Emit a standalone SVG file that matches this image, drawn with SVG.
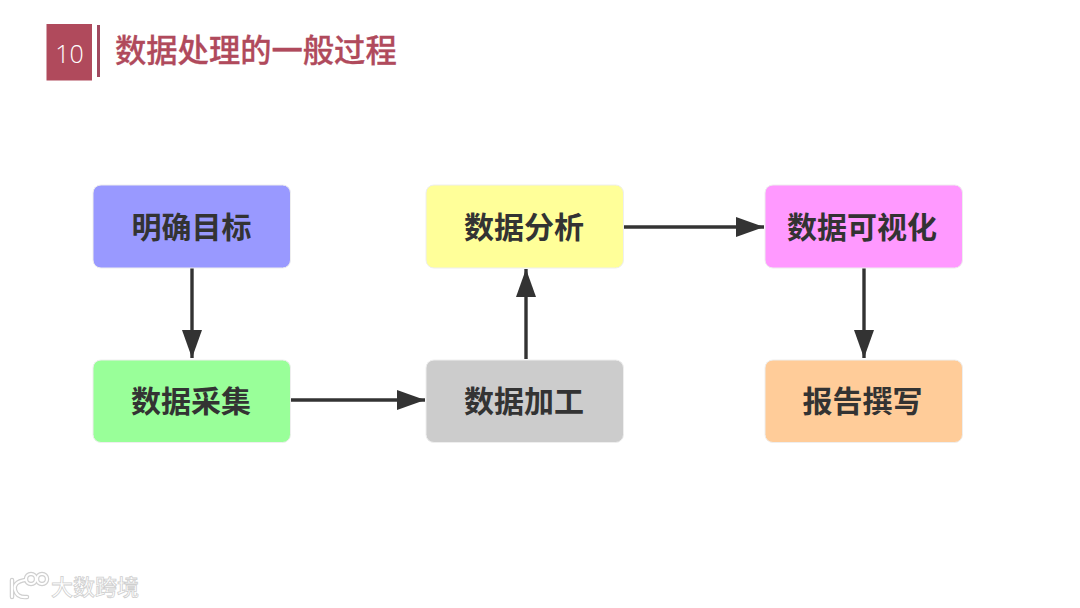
<svg xmlns="http://www.w3.org/2000/svg" width="1080" height="608" viewBox="0 0 1080 608">
<style>
.n{font:700 30px "Noto Sans CJK SC","Noto Sans",sans-serif;fill:#333;text-anchor:middle}
.b{stroke:#eeeeee;stroke-width:1}
.c{stroke:#333;stroke-width:3.400;fill:none;marker-end:url(#a)}
.w{fill:none;stroke:#cfcfcf;stroke-linecap:round}
.h{fill:none;stroke:#fff;stroke-linecap:round}
</style>
<defs><marker id="a" markerUnits="userSpaceOnUse" markerWidth="30" markerHeight="22" refX="28" refY="10" orient="auto"><path d="M0 0L28 10L0 20Z" fill="#333"/></marker></defs>
<rect width="1080" height="608" fill="#fff"/>
<g id="header">
<rect x="46.500" y="24" width="45.500" height="56.500" fill="#b04a5c"/>
<rect x="97" y="25" width="3" height="52" fill="#a04a60"/>
<text x="69.500" y="63" font-family="'Open Sans',sans-serif" font-size="25" font-weight="300" fill="#fff" text-anchor="middle">10</text>
<text x="115" y="61.500" font-family="'Noto Sans CJK SC',sans-serif" font-size="31.300" font-weight="500" fill="#b04a5c" stroke="#b04a5c" stroke-width="0.300">数据处理的一般过程</text>
</g>
<g id="connectors">
<path class="c" d="M192 268V358"/>
<path class="c" d="M291 400H425"/>
<path class="c" d="M526 359V269"/>
<path class="c" d="M624 227H764"/>
<path class="c" d="M864 268V358"/>
</g>
<g id="n1"><rect class="b" x="93" y="185" width="197.500" height="83" rx="8" fill="#9999ff"/><text class="n" x="191.500" y="238">明确目标</text></g>
<g id="n2"><rect class="b" x="93" y="360" width="197.500" height="82.500" rx="8" fill="#99ff99"/><text class="n" x="191" y="412">数据采集</text></g>
<g id="n3"><rect class="b" x="426" y="360" width="197.500" height="82.500" rx="8" fill="#cccccc"/><text class="n" x="524" y="412">数据加工</text></g>
<g id="n4"><rect class="b" x="426" y="185" width="197.500" height="83" rx="8" fill="#ffff99"/><text class="n" x="524" y="238">数据分析</text></g>
<g id="n5"><rect class="b" x="765" y="185" width="197.500" height="83" rx="8" fill="#ff99ff"/><text class="n" x="862" y="238">数据可视化</text></g>
<g id="n6"><rect class="b" x="765" y="360" width="197.500" height="82.500" rx="8" fill="#ffcc99"/><text class="n" x="862.500" y="412">报告撰写</text></g>
<g id="watermark">
<g class="w" stroke-width="4.500">
<path d="M12 580V597M25 580Q13 582 15 590Q17 598 27 597"/>
<circle cx="31" cy="579" r="5"/><circle cx="42" cy="579" r="5"/>
</g>
<g class="h" stroke-width="2.200">
<path d="M12 580V597M25 580Q13 582 15 590Q17 598 27 597"/>
<circle cx="31" cy="579" r="5"/><circle cx="42" cy="579" r="5"/>
</g>
<text x="51" y="595" font-family="'Noto Sans CJK SC',sans-serif" font-size="22" font-weight="500" fill="#fff" stroke="#cfcfcf" stroke-width="0.800">大数跨境</text>
</g>
</svg>
